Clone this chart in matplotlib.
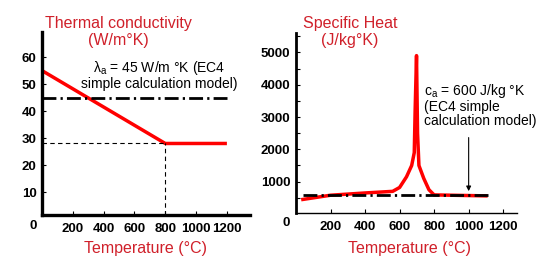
import matplotlib
matplotlib.use("Agg")
import matplotlib.pyplot as plt
from matplotlib.ticker import MultipleLocator

plt.rcParams['font.family'] = ['Liberation Sans', 'DejaVu Sans']
plt.rcParams['mathtext.fontset'] = 'custom'
plt.rcParams['mathtext.rm'] = 'Liberation Sans'

# thermal conductivity (W/mK)
k_temp = [0, 800, 1200]
k_val = [55, 28, 28]
k_ec4 = 45
k_ticks_x = [200, 400, 600, 800, 1000, 1200]
k_ticks_y = [10, 20, 30, 40, 50, 60]

# specific heat (J/kgK)
c_temp = [40, 200, 400, 560, 600, 640, 670, 685, 690, 698, 704, 712, 740, 770, 800, 900, 1100]
c_val = [450, 580, 650, 700, 820, 1150, 1500, 1900, 3200, 4900, 2500, 1500, 1100, 750, 590, 580, 560]
c_ec4 = 600
c_ticks_x = [200, 400, 600, 800, 1000, 1200]
c_ticks_y = [1000, 2000, 3000, 4000, 5000]

red = '#ff0000'
txtred = '#d0202a'
W, H = 544, 258

fig = plt.figure(figsize=(5.44, 2.58), dpi=100)

def px(x0, y0, x1, y1):
    return [x0 / W, 1 - y1 / H, (x1 - x0) / W, (y1 - y0) / H]

dashdot = (0, (5, 1.5, 0.8, 1.5))

# --- linke Grafik
ax1 = fig.add_axes(px(42, 32, 250, 215))
ax1.plot(k_temp, k_val, color=red, lw=2.5, solid_capstyle='butt')
ax1.plot([0, 1220], [k_ec4, k_ec4], color='black', lw=2, linestyle=dashdot)
ax1.plot([0, 800], [28, 28], color='black', lw=0.8, linestyle=(0, (4, 3)))
ax1.plot([800, 800], [1.5, 28], color='black', lw=0.8, linestyle=(0, (4, 3)))
ax1.set_xlim(0, 1350)
ax1.set_ylim(1.5, 69.3)
ax1.set_xticks(k_ticks_x)
ax1.set_yticks(k_ticks_y)
ax1.text(760, 53.3, "λ$_{\\rm a}$ = 45 W/m °K (EC4\nsimple calculation model)",
         ha='center', va='center', fontsize=10, linespacing=1.0)

# --- rechte Grafik
ax2 = fig.add_axes(px(296, 33, 517, 213))
ax2.plot(c_temp, c_val, color=red, lw=2.5)
ax2.plot([40, 1120], [c_ec4, c_ec4], color='black', lw=2, linestyle=dashdot)
ax2.annotate("", xy=(1000, 620), xytext=(1000, 2450),
             arrowprops=dict(arrowstyle='-|>', color='black', lw=0.8, mutation_scale=7))
ax2.set_xlim(0, 1280)
ax2.set_ylim(30, 5600)
ax2.set_xticks(c_ticks_x)
ax2.set_yticks(c_ticks_y)
ax2.yaxis.set_minor_locator(MultipleLocator(500))
ax2.text(740, 3370, "c$_{\\rm a}$ = 600 J/kg °K\n(EC4 simple\ncalculation model)",
         ha='left', va='center', fontsize=10, linespacing=1.0)

for ax, lwy, lwx in [(ax1, 2.4, 2.4), (ax2, 2.0, 1.0)]:
    for s in ['top', 'right']:
        ax.spines[s].set_visible(False)
    ax.spines['left'].set_linewidth(lwy)
    ax.spines['bottom'].set_linewidth(lwx)
    ax.tick_params(direction='in', length=3, width=0.8, labelsize=9.5, pad=4)
    ax.tick_params(which='minor', direction='in', length=3, width=0.8)
    for lab in ax.get_xticklabels() + ax.get_yticklabels():
        lab.set_fontweight('bold')
    ax.tick_params(axis='x', pad=6)

fig.text(33 / W, 1 - 226 / H, "0", ha='center', va='center', fontsize=9.5, fontweight='bold')
fig.text(286 / W, 1 - 223 / H, "0", ha='center', va='center', fontsize=9.5, fontweight='bold')

fig.text(118 / W, 1 - 32 / H, "Thermal conductivity\n(W/m°K)", color=txtred,
         ha='center', va='center', fontsize=11.5, linespacing=1.1)
fig.text(350 / W, 1 - 32 / H, "Specific Heat\n(J/kg°K)", color=txtred,
         ha='center', va='center', fontsize=11.5, linespacing=1.1)
fig.text(145 / W, 1 - 248 / H, "Temperature (°C)", color=txtred,
         ha='center', va='center', fontsize=11.5)
fig.text(410 / W, 1 - 248 / H, "Temperature (°C)", color=txtred,
         ha='center', va='center', fontsize=11.5)

fig.savefig("out.png", dpi=100)
